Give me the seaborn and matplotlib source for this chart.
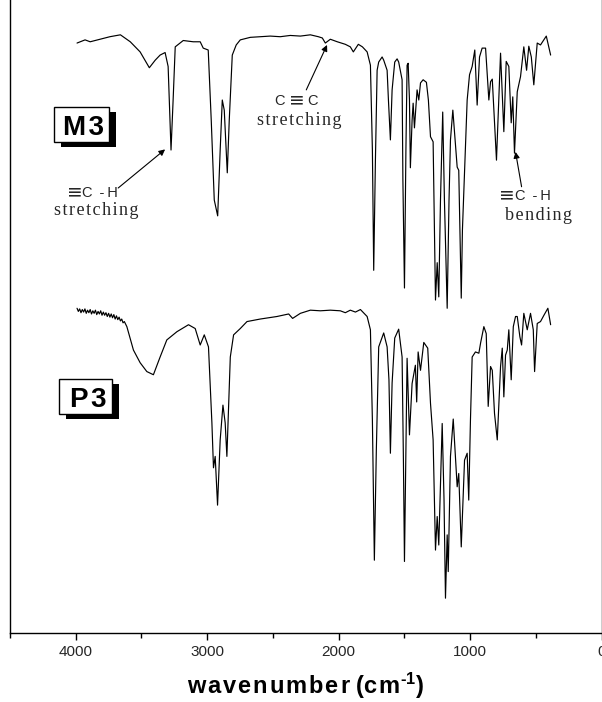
import matplotlib
matplotlib.use("Agg")
import matplotlib.pyplot as plt
from matplotlib.patches import Rectangle
import pandas as pd
import seaborn as sns

# ---------------- data ----------------
m3_wavenumber = [3990, 3929, 3890, 3815, 3740, 3660, 3585, 3510, 3440, 3395,
                 3358, 3320, 3297, 3275, 3259, 3243, 3182, 3106, 3053, 3030,
                 2992, 2969, 2946, 2920, 2901, 2885, 2870, 2847, 2832, 2809,
                 2779, 2748, 2672, 2596, 2520, 2444, 2368, 2291, 2215, 2154,
                 2124, 2101, 2063, 2010, 1949, 1911, 1888, 1850, 1819, 1783,
                 1758, 1743, 1733, 1720, 1707, 1695, 1669, 1657, 1631, 1621,
                 1606, 1593, 1573, 1555, 1543, 1517, 1511, 1499, 1488, 1479,
                 1471, 1461, 1454, 1441, 1433, 1423, 1403, 1390, 1377, 1357,
                 1332, 1317, 1301, 1281, 1263, 1250, 1238, 1225, 1208, 1195,
                 1174, 1160, 1149, 1131, 1098, 1086, 1067, 1058, 1042, 1022,
                 1004, 984, 964, 946, 928, 908, 882, 857, 844, 831,
                 799, 768, 743, 725, 705, 687, 675, 662, 641, 616,
                 591, 570, 553, 534, 515, 489, 464, 420, 387]
m3_transmittance = [93.2, 93.7, 93.4, 93.8, 94.2, 94.5, 93.4, 91.8, 89.3, 90.5,
                    91.3, 91.7, 89.5, 76.3, 84.2, 92.6, 93.6, 93.4, 93.4, 92.4,
                    92.1, 81.0, 68.4, 65.9, 76.3, 84.2, 82.6, 72.7, 81.0, 91.3,
                    92.9, 93.7, 94.1, 94.2, 94.3, 94.2, 94.4, 94.3, 94.5, 94.2,
                    94.0, 93.2, 93.8, 93.4, 93.0, 92.6, 91.8, 93.0, 92.6, 91.8,
                    89.7, 76.3, 57.3, 74.7, 88.9, 90.2, 91.0, 90.5, 88.9, 84.2,
                    77.9, 85.8, 90.2, 90.7, 90.2, 87.4, 71.6, 54.5, 76.3, 89.7,
                    90.0, 84.2, 73.5, 81.0, 83.7, 79.8, 85.8, 84.2, 86.9, 87.4,
                    87.0, 84.2, 78.4, 77.6, 52.6, 58.5, 53.1, 68.4, 82.3, 68.4,
                    51.3, 68.4, 77.9, 82.6, 73.6, 73.1, 52.9, 63.7, 72.7, 84.2,
                    88.2, 89.5, 92.1, 83.4, 91.0, 92.4, 92.4, 84.2, 87.1, 87.5,
                    74.7, 91.6, 79.2, 90.3, 89.5, 80.6, 84.7, 75.8, 85.5, 87.9,
                    92.6, 88.9, 92.7, 91.0, 86.6, 93.2, 92.9, 94.3, 91.3]

p3_wavenumber = [3990, 3980, 3970, 3960, 3950, 3940, 3930, 3920, 3910, 3900,
                 3890, 3880, 3870, 3860, 3850, 3840, 3830, 3820, 3810, 3800,
                 3790, 3780, 3770, 3760, 3750, 3740, 3730, 3720, 3710, 3700,
                 3690, 3680, 3670, 3660, 3650, 3640, 3630, 3611, 3561, 3510,
                 3459, 3409, 3358, 3307, 3230, 3142, 3091, 3053, 3022, 2990,
                 2964, 2952, 2939, 2921, 2901, 2880, 2863, 2850, 2824, 2799,
                 2748, 2697, 2596, 2469, 2380, 2350, 2291, 2215, 2139, 2063,
                 1987, 1949, 1911, 1872, 1834, 1783, 1758, 1743, 1728, 1713,
                 1695, 1657, 1631, 1617, 1606, 1593, 1573, 1543, 1517, 1507,
                 1499, 1489, 1479, 1461, 1441, 1416, 1406, 1395, 1377, 1352,
                 1322, 1301, 1281, 1263, 1250, 1238, 1212, 1198, 1187, 1174,
                 1166, 1149, 1128, 1098, 1086, 1067, 1042, 1022, 1010, 997,
                 984, 959, 933, 920, 895, 877, 862, 844, 831, 814,
                 793, 768, 755, 743, 730, 717, 705, 687, 671, 654,
                 641, 621, 608, 591, 565, 540, 519, 509, 489, 464,
                 438, 408, 387]
p3_transmittance = [51.3, 50.8, 51.2, 50.6, 51.1, 50.7, 51.2, 50.5, 51.0, 50.6,
                    51.1, 50.4, 50.9, 50.5, 51.0, 50.3, 50.8, 50.4, 50.9, 50.2,
                    50.7, 50.2, 50.6, 50.0, 50.5, 49.9, 50.4, 49.8, 50.3, 49.6,
                    50.1, 49.5, 49.9, 49.3, 49.6, 49.0, 49.2, 48.4, 44.7, 42.7,
                    41.3, 40.8, 43.6, 46.3, 47.6, 48.7, 48.1, 45.5, 47.1, 45.2,
                    33.2, 26.1, 27.9, 20.2, 30.5, 36.0, 33.2, 27.9, 43.6, 47.1,
                    48.1, 49.2, 49.6, 50.0, 50.4, 49.7, 50.5, 51.0, 50.9, 51.0,
                    50.9, 50.6, 51.0, 50.7, 51.1, 50.0, 47.9, 33.6, 11.5, 28.9,
                    45.2, 47.4, 45.2, 40.0, 28.4, 39.5, 46.6, 48.0, 43.6, 27.3,
                    11.3, 27.3, 43.4, 31.3, 39.4, 42.3, 36.5, 44.4, 41.5, 45.9,
                    45.0, 36.3, 30.5, 13.1, 18.4, 13.9, 33.1, 21.0, 5.5, 15.5,
                    9.7, 27.9, 33.8, 23.1, 25.2, 13.6, 27.3, 28.4, 21.0, 33.6,
                    43.6, 44.4, 44.2, 45.8, 48.4, 47.3, 35.8, 42.1, 41.5, 34.7,
                    30.5, 42.1, 45.0, 37.3, 43.9, 44.7, 47.9, 40.0, 48.4, 50.0,
                    50.0, 46.8, 45.5, 50.5, 47.9, 50.5, 47.9, 41.3, 48.9, 49.2,
                    50.2, 51.3, 48.7]

series_labels = ["M\u200a3", "P\u200a3"]
major_ticks = [4000, 3000, 2000, 1000, 0]
minor_ticks = [4500, 3500, 2500, 1500, 500]
x_label = "w\u200aa\u200av\u200ae\u200an\u200au\u200am\u200ab\u200ae\u200ar (c\u200am$^{\u2010\\mathbf{1}}$)"

# ---------------- figure ----------------
sns.set_theme(style="white")
plt.rcParams["font.family"] = ["Liberation Sans", "DejaVu Sans"]
plt.rcParams["mathtext.fontset"] = "custom"
plt.rcParams["mathtext.rm"] = "Liberation Sans:bold"
plt.rcParams["mathtext.it"] = "Liberation Sans:bold"
plt.rcParams["mathtext.bf"] = "Liberation Sans:bold"

fig = plt.figure(figsize=(6.02, 7.02), dpi=100)
W, H = 602.0, 702.0
ax = fig.add_axes([10 / W, 69 / H, 591.5 / W, 633 / H])

df = pd.concat([
    pd.DataFrame({"wavenumber": m3_wavenumber, "T": m3_transmittance, "sample": "M3"}),
    pd.DataFrame({"wavenumber": p3_wavenumber, "T": p3_transmittance, "sample": "P3"}),
])
for name in ["M3", "P3"]:
    sub = df[df["sample"] == name]
    sns.lineplot(data=sub, x="wavenumber", y="T", ax=ax, color="black",
                 linewidth=0.85, sort=False, estimator=None, legend=False)

ax.set_xlim(4500, 0)
ax.set_ylim(0, 100)
ax.set_xticks(major_ticks)
ax.set_xticks(minor_ticks, minor=True)
ax.set_xticklabels([str(t) for t in major_ticks])
ax.set_yticks([])
ax.set_ylabel("")
ax.tick_params(axis="x", which="major", direction="out", length=5, width=1,
               color="black", labelsize=11, pad=4, bottom=True)
ax.tick_params(axis="x", which="minor", direction="out", length=3.5, width=1,
               color="black", bottom=True)
ax.spines["top"].set_visible(False)
for s in ["left", "right", "bottom"]:
    ax.spines[s].set_color("black")
    ax.spines[s].set_linewidth(1.0)
ax.set_xlabel(x_label, fontsize=17, fontweight="bold", labelpad=8, color="black")

# ---------------- sample boxes with shadow ----------------
def shadow_box(x0, y0, x1, y1, text, tx, ty):
    dx, dy = 7 / 591.5, -5 / 633
    ax.add_patch(Rectangle((x0 + dx, y0 + dy), x1 - x0, y1 - y0, transform=ax.transAxes,
                           facecolor="black", edgecolor="black", lw=0, zorder=5))
    ax.add_patch(Rectangle((x0, y0), x1 - x0, y1 - y0, transform=ax.transAxes,
                           facecolor="white", edgecolor="black", lw=1.0, zorder=6))
    ax.text(tx, ty, text, transform=ax.transAxes, ha="center", va="baseline",
            fontsize=20, fontweight="bold", zorder=7, color="black")

shadow_box(0.0745, 0.7762, 0.1675, 0.8305, series_labels[0], 0.124, 0.7867)
shadow_box(0.0829, 0.3460, 0.1726, 0.4008, series_labels[1], 0.132, 0.3570)

# ---------------- annotations ----------------
HS = "\u200a"
def spaced(s):
    return HS.join(s)

serif = ["Liberation Serif", "DejaVu Serif"]
sans = ["Liberation Sans", "DejaVu Sans"]
arrow = dict(arrowstyle="-|>", color="black", lw=0.8, mutation_scale=9, shrinkA=0, shrinkB=0)

def triple_bond_ch(x, y):
    # "≡" drawn wide, then "C -H"
    ax.text(x, y, "\u2261", family=["DejaVu Sans"], fontsize=13.5, ha="right", va="baseline")
    ax.text(x, y, "C\u2009 -\u2009H", family=sans, fontsize=10.5, ha="left", va="baseline")

# ≡C-H stretching (M3)
triple_bond_ch(3950, 68.8)
ax.text(3845, 66.7, spaced("stretching"), family=serif, fontsize=13, ha="center", va="center")
ax.annotate("", xy=(3320, 76.4), xytext=(3677, 70.3), arrowprops=arrow)

# C≡C stretching
ax.text(2406, 83.4, "C", family=sans, fontsize=10.5, ha="right", va="baseline")
ax.text(2314, 83.4, "\u2261", family=["DejaVu Sans"], fontsize=13.5, ha="center", va="baseline")
ax.text(2238, 83.4, "C", family=sans, fontsize=10.5, ha="left", va="baseline")
ax.text(2303, 80.9, spaced("stretching"), family=serif, fontsize=13, ha="center", va="center")
ax.annotate("", xy=(2088, 92.9), xytext=(2246, 85.8), arrowprops=arrow)

# ≡C-H bending
triple_bond_ch(658, 68.4)
ax.text(483, 66.0, spaced("bending"), family=serif, fontsize=13, ha="center", va="center")
ax.annotate("", xy=(654, 76.0), xytext=(608, 70.5), arrowprops=arrow)

fig.savefig("out.png", dpi=100, facecolor="white")
